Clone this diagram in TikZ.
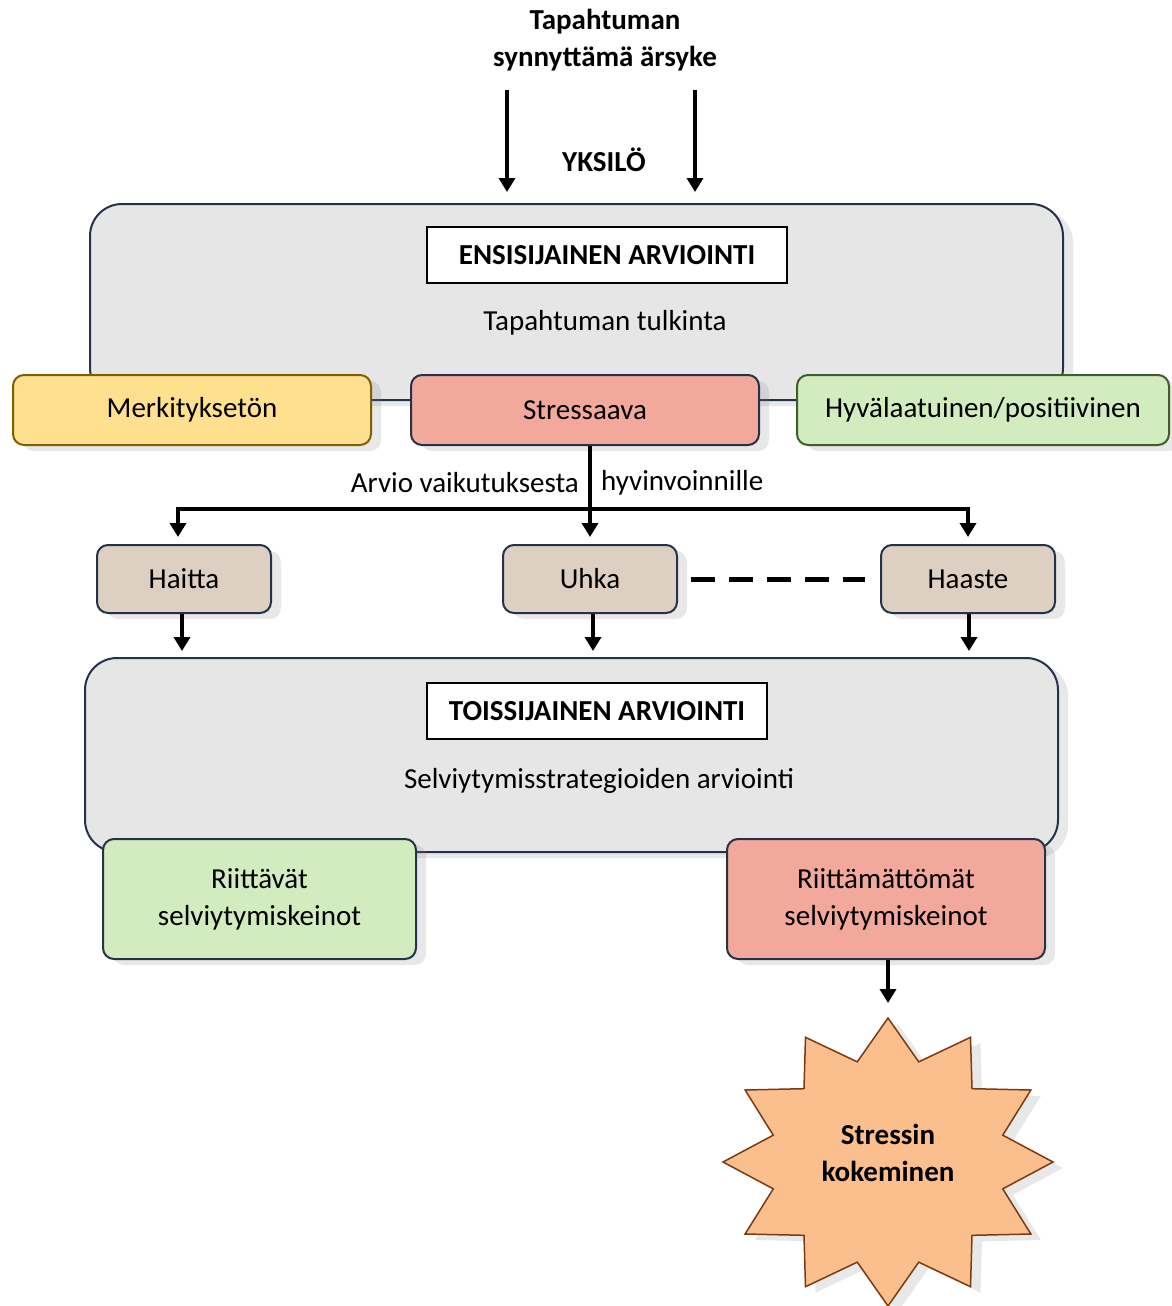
\documentclass[tikz,border=0pt]{standalone}
\usepackage{fontspec}
\setmainfont{Carlito}
\usetikzlibrary{arrows.meta,shadows}
\definecolor{boxgray}{HTML}{E6E6E6}
\definecolor{edgenavy}{HTML}{25324A}
\definecolor{yellowfill}{HTML}{FFE08F}
\definecolor{yellowedge}{HTML}{7F6000}
\definecolor{salmonfill}{HTML}{F2A99B}
\definecolor{greenfill}{HTML}{D2EBBF}
\definecolor{greenedge}{HTML}{3F5E2C}
\definecolor{beigefill}{HTML}{DDD0C3}
\definecolor{starfill}{HTML}{FBBF8D}
\definecolor{staredge}{HTML}{7A3A12}

\begin{document}
\begin{tikzpicture}[x=1pt,y=-1pt,
  every node/.style={font=\fontsize{29}{37}\selectfont, align=center, inner sep=0pt},
  shade/.style={drop shadow={shadow xshift=10pt,shadow yshift=-6pt,opacity=.18}},
  bigbox/.style={draw=edgenavy, line width=2pt, fill=boxgray, rounded corners=32pt, minimum width=973pt, shade},
  titlebox/.style={draw=black, line width=1.3pt, fill=white, minimum height=56pt, font=\fontsize{29}{37}\selectfont\bfseries},
  choice/.style={draw=edgenavy, line width=2pt, rounded corners=11pt, minimum height=70pt, shade},
  kind/.style={choice, fill=beigefill, minimum width=174pt, minimum height=68pt},
  coping/.style={choice, minimum height=120pt},
  arr/.style={line width=4.5pt, -{Triangle[width=16pt,length=14pt]}},
  dashline/.style={line width=5pt, dash pattern=on 24pt off 14pt}
]
\useasboundingbox (0,0) rectangle (1171,1306);

\node[font=\fontsize{29}{37}\selectfont\bfseries] (arsyke) at (605,40) {Tapahtuman\\synnyttämä ärsyke};
\node[font=\fontsize{29}{37}\selectfont\bfseries] (yksilo) at (604,160) {YKSILÖ};
\coordinate (inL) at (507,90);
\coordinate (inR) at (695,90);
\draw[arr] (inL) -- ++(0,102);
\draw[arr] (inR) -- ++(0,102);

\node[bigbox, minimum height=196pt] (ensi) at (576.5,302) {};
\node[titlebox, minimum width=360pt] (ensititle) at (607,255) {ENSISIJAINEN ARVIOINTI};
\node (tulkinta) at (605,323) {Tapahtuman tulkinta};

\node[choice, draw=yellowedge, fill=yellowfill, minimum width=358pt] (merk) at (192,410) {Merkityksetön};
\node[choice, fill=salmonfill, minimum width=348pt] (stressaava) at (585,410) {Stressaava};
\node[choice, draw=greenedge, fill=greenfill, minimum width=372pt] (hyva) at (983,410) {Hyvälaatuinen/positiivinen};

\node[anchor=east] (arvio) at (579,483) {Arvio vaikutuksesta};
\node[anchor=west] (hyvinv) at (601,483) {hyvinvoinnille};

\node[kind] (haitta) at (184,579) {Haitta};
\node[kind] (uhka) at (590,579) {Uhka};
\node[kind] (haaste) at (968,579) {Haaste};

\coordinate (split) at (590,509);
\draw[arr, shorten >=7pt] (uhka.north |- stressaava.south) -- (uhka.north);
\draw[arr, shorten >=7pt] (split) -| ([xshift=-6pt]haitta.north);
\draw[arr, shorten >=7pt] (split) -| (haaste.north);
\draw[dashline] ([xshift=13pt]uhka.east) -- ([xshift=-15pt]haaste.west);

\node[bigbox, minimum height=194pt] (toiss) at (571.5,755) {};
\node[titlebox, minimum width=340pt] (toisstitle) at (597,711) {TOISSIJAINEN ARVIOINTI};
\node (strategiat) at (599,781) {Selviytymisstrategioiden arviointi};

\draw[arr, shorten >=6pt] ([xshift=-2pt]haitta.south) -- ([xshift=-2pt]haitta.south |- toiss.north);
\draw[arr, shorten >=6pt] ([xshift=3pt]uhka.south) -- ([xshift=3pt]uhka.south |- toiss.north);
\draw[arr, shorten >=6pt] ([xshift=1pt]haaste.south) -- ([xshift=1pt]haaste.south |- toiss.north);

\node[coping, fill=greenfill, minimum width=313pt] (riittavat) at (259.5,899) {Riittävät\\selviytymiskeinot};
\node[coping, fill=salmonfill, minimum width=318pt] (riittamat) at (886,899) {Riittämättömät\\selviytymiskeinot};

\path[draw=staredge, line width=1.5pt, fill=starfill, shade]
  plot[samples at={0,15,...,345}, variable=\a]
  ({888+165*ifthenelse(mod(\a,30)==0,1,0.72)*sin(\a)}, {1162-144*ifthenelse(mod(\a,30)==0,1,0.72)*cos(\a)}) -- cycle;
\coordinate (startop) at (888,1018);
\node[font=\fontsize{29}{37}\selectfont\bfseries] (kokeminen) at (888,1153) {Stressin\\kokeminen};
\draw[arr] (riittamat.south -| startop) -- ([yshift=15pt]startop);
\end{tikzpicture}
\end{document}
